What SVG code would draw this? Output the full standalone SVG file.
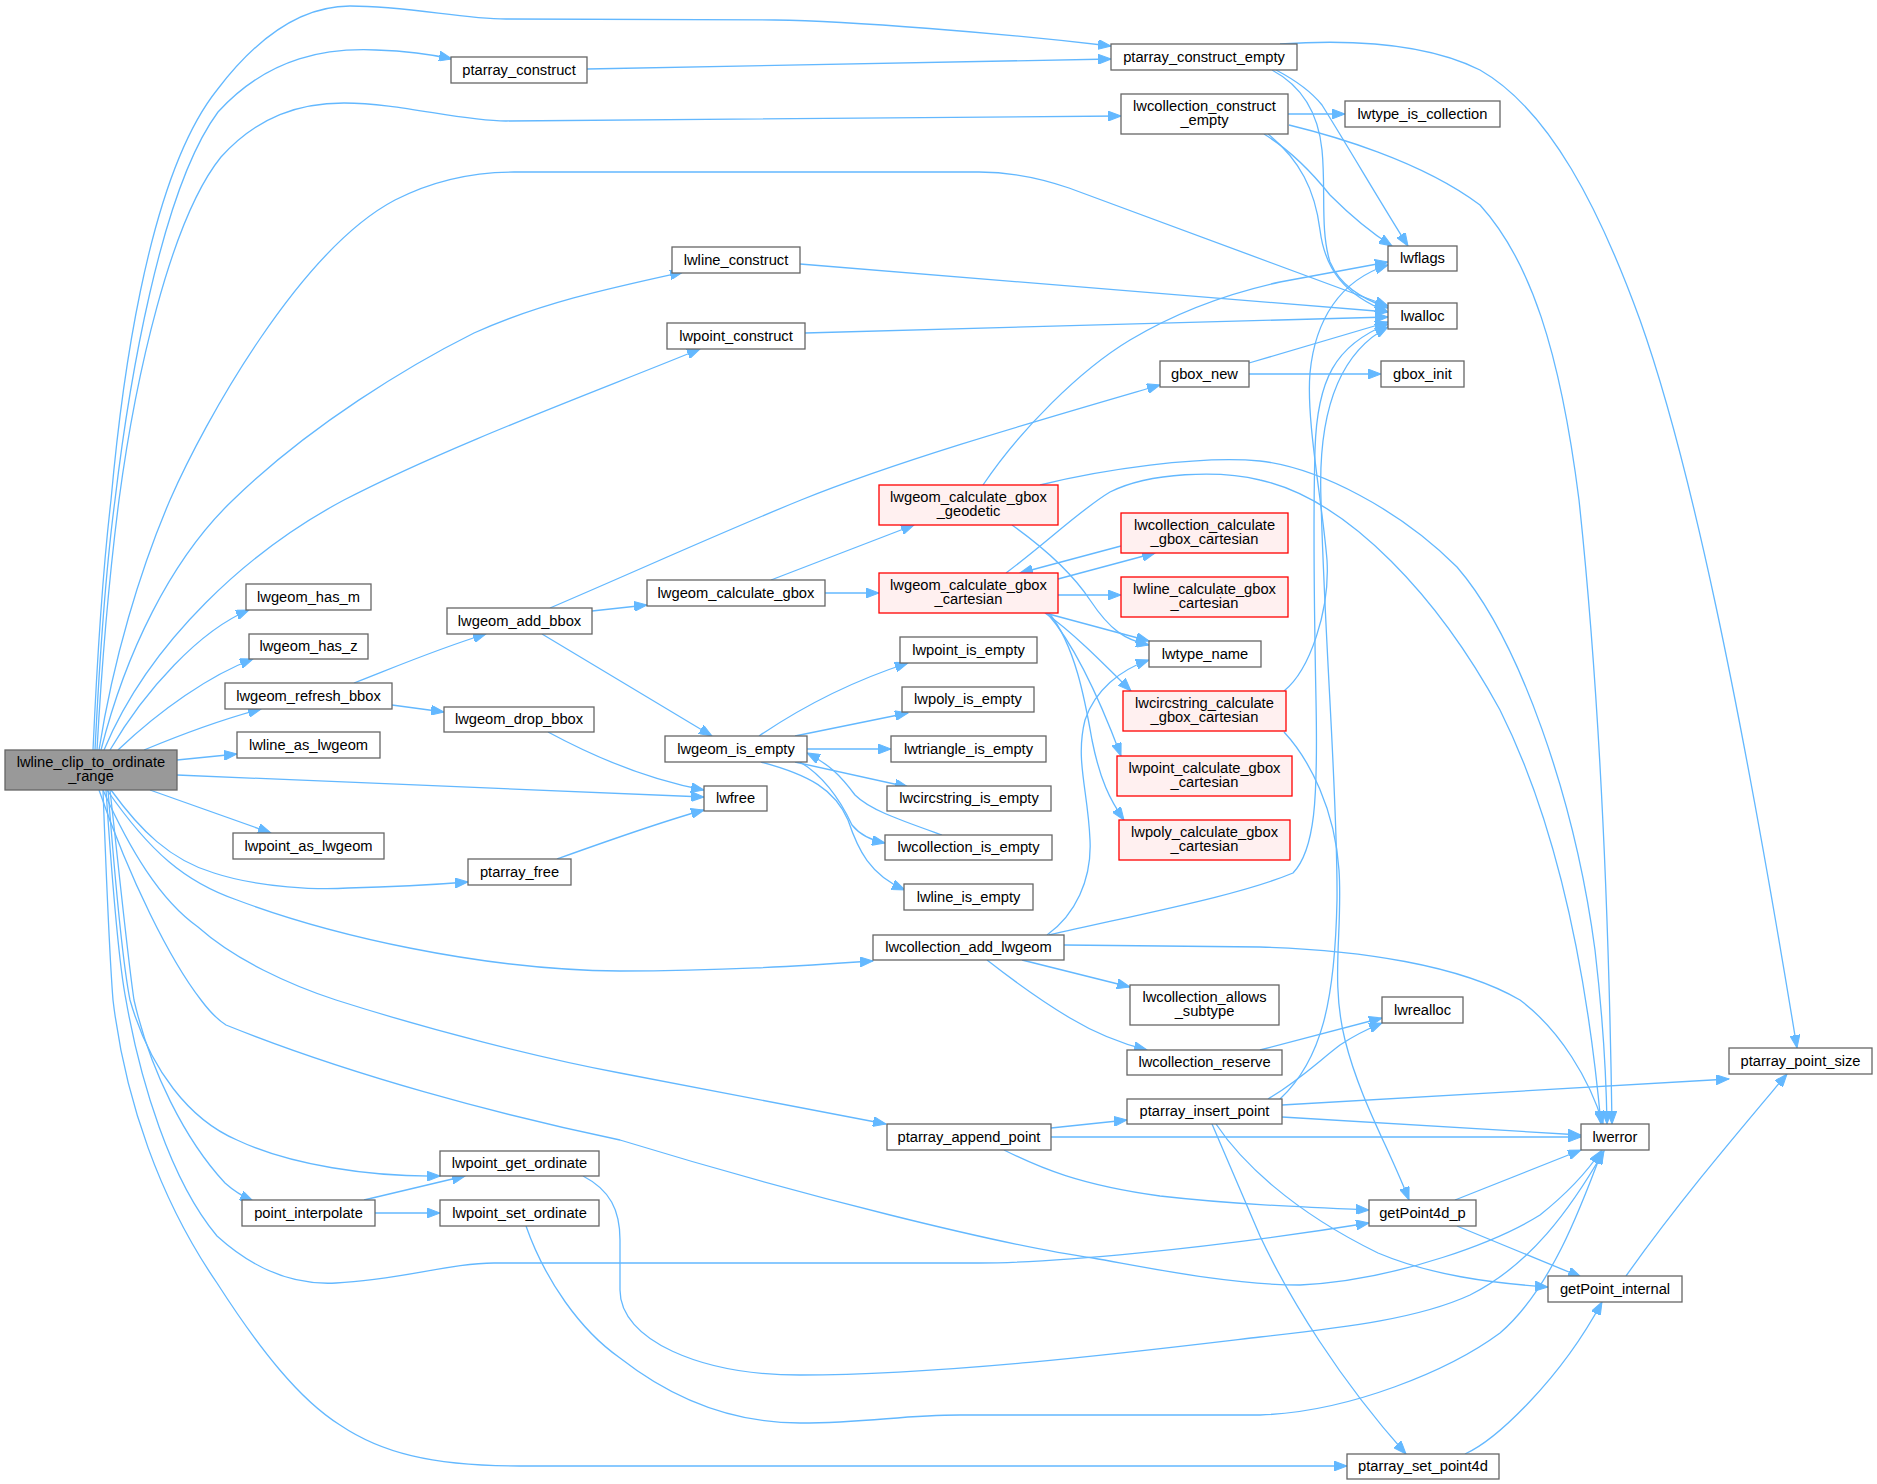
<svg xmlns="http://www.w3.org/2000/svg" width="1877" height="1484" viewBox="0 0 1877 1484">
<style>
rect{stroke:#666666;stroke-width:1.3;fill:#ffffff}
.r rect{stroke:#ff0000;fill:#fff0f0}
.g rect{fill:#999999}
text{font-family:"Liberation Sans",Arial,sans-serif;font-size:14.7px;fill:#000;text-anchor:middle}
#edges path{fill:none;stroke:#63b8ff;stroke-width:1.3;marker-end:url(#a)}
</style>
<defs>
<marker id="a" markerWidth="14" markerHeight="10" refX="13" refY="5" orient="auto" markerUnits="userSpaceOnUse"><path d="M0,0 L13,5 L0,10 z" fill="#63b8ff" stroke="#63b8ff" stroke-width="1"/></marker>
</defs>
<rect x="0" y="0" width="1877" height="1484" style="fill:#ffffff;stroke:none"/>
<g id="edges">
<path d="M93,750 C98,640 104,560 111,500 C120,400 145,180 217,90 C255,40 300,6 350,6 C410,6 460,19 506,19 L775,20 C850,21 1000,33 1111,46"/>
<path d="M95,750 C100,650 107,560 115,500 C128,390 160,190 218,112 C270,55 330,48 376,50 C405,51 430,54 452,59"/>
<path d="M97,750 C102,660 110,570 119,500 C135,380 170,220 221,157 C258,116 300,103 344,103 C400,103 460,121 506,121 L1121,116"/>
<path d="M99,750 C113,660 140,570 170,500 C205,420 300,250 395,200 C430,182 470,172 514,172 L979,172 C1010,172 1040,178 1069,188 L1388,306"/>
<path d="M101,750 C125,655 170,560 233,500 C310,425 410,365 474,333 C540,303 610,288 683,272"/>
<path d="M104,750 C150,640 250,550 344,500 C450,445 600,390 700,349"/>
<path d="M110,750 C145,690 200,630 249,610"/>
<path d="M118,750 C160,710 210,675 253,659"/>
<path d="M144,750 C180,735 220,720 261,709"/>
<path d="M177,760 L237,754"/>
<path d="M177,775 L704,797"/>
<path d="M150,790 L271,833"/>
<path d="M111,790 C140,830 170,860 214,873 C260,888 320,890 348,888 C390,887 430,885 468,882"/>
<path d="M107,790 C150,852 185,882 237,900 C330,935 480,970 620,971 C720,971 800,966 873,961"/>
<path d="M103,790 C130,850 160,900 198,927 C235,960 290,985 336,1000 C430,1030 540,1058 620,1073 L886,1124"/>
<path d="M99,790 C130,880 170,960 201,1000 C210,1012 218,1020 226,1025 C350,1075 500,1115 620,1140 C800,1195 1000,1245 1093,1258 C1150,1268 1230,1285 1300,1285 C1400,1280 1500,1240 1540,1215 C1565,1195 1585,1175 1601,1151"/>
<path d="M108,790 C115,880 122,960 130,1000 C150,1070 190,1120 237,1140 C290,1165 370,1177 440,1176"/>
<path d="M110,790 C120,880 128,960 134,1000 C150,1070 185,1140 225,1183 C235,1192 244,1197 253,1201"/>
<path d="M106,790 C112,880 118,960 126,1000 C140,1080 170,1180 217,1236 C260,1275 300,1285 336,1283 C400,1280 450,1263 494,1263 L979,1263 C1050,1263 1200,1250 1369,1223"/>
<path d="M103,790 C106,870 109,950 113,1000 C125,1100 160,1200 217,1283 C260,1350 300,1400 340,1425 C380,1452 430,1466 520,1466 L1347,1466"/>
<path d="M587,69 L1111,59"/>
<path d="M1280,44 C1340,40 1420,40 1480,70 C1550,110 1600,210 1640,320 C1690,460 1740,700 1797,1048"/>
<path d="M1276,70 C1295,80 1310,90 1322,105 C1350,150 1385,210 1408,246"/>
<path d="M1272,70 C1300,85 1318,110 1322,150 C1326,190 1320,230 1330,262 C1340,285 1360,298 1388,308"/>
<path d="M1288,114 L1345,114"/>
<path d="M1264,134 C1290,150 1310,170 1330,195 C1350,215 1370,232 1392,246"/>
<path d="M1268,134 C1300,160 1315,190 1320,230 C1325,270 1345,295 1388,312"/>
<path d="M1289,125 C1330,135 1420,160 1480,205 C1530,260 1560,350 1579,500 C1595,650 1608,850 1612,1124"/>
<path d="M800,264 L1388,312"/>
<path d="M805,333 L1388,317"/>
<path d="M1249,363 L1388,322"/>
<path d="M1249,374 L1381,374"/>
<path d="M550,608 C650,565 720,533 801,500 C900,460 1040,420 1160,385"/>
<path d="M592,611 L647,605"/>
<path d="M542,634 L712,736"/>
<path d="M354,683 C400,665 440,648 486,634"/>
<path d="M392,705 L444,712"/>
<path d="M548,732 C600,760 650,780 704,790"/>
<path d="M557,859 C610,840 660,822 704,810"/>
<path d="M771,580 L914,525"/>
<path d="M825,593 L879,593"/>
<path d="M1058,579 L1155,553"/>
<path d="M1121,546 L1020,573"/>
<path d="M1058,595 L1121,595"/>
<path d="M1045,613 L1149,641"/>
<path d="M1045,613 C1070,630 1100,660 1131,691"/>
<path d="M1047,613 C1075,645 1100,700 1121,756"/>
<path d="M1049,613 C1075,645 1085,700 1092,740 C1100,780 1110,800 1124,820"/>
<path d="M1012,525 C1040,545 1070,570 1090,600 C1110,630 1125,640 1149,645"/>
<path d="M983,485 C1020,430 1080,370 1130,340 C1180,310 1230,293 1280,282 L1388,262"/>
<path d="M1040,485 C1100,470 1200,455 1260,461 C1320,468 1400,510 1457,567 C1520,640 1575,800 1595,950 C1602,1010 1606,1060 1607,1124"/>
<path d="M1006,573 C1050,540 1080,510 1110,492 C1150,472 1220,470 1260,480 C1350,500 1440,600 1500,710 C1550,810 1585,950 1601,1124"/>
<path d="M1284,691 C1310,670 1330,610 1327,560 C1322,500 1306,420 1310,373 C1315,320 1340,280 1388,265"/>
<path d="M1284,732 C1310,760 1335,810 1339,870 C1343,930 1330,980 1345,1040 C1360,1100 1390,1150 1409,1200"/>
<path d="M759,736 C790,715 840,685 908,663"/>
<path d="M795,736 L908,713"/>
<path d="M807,749 L891,749"/>
<path d="M795,762 L908,787"/>
<path d="M800,762 C830,780 845,810 852,825 C860,835 870,840 885,843"/>
<path d="M761,762 C810,775 835,790 848,820 C858,850 870,875 905,890"/>
<path d="M942,835 C900,820 870,810 855,795 C840,775 830,765 807,753"/>
<path d="M1047,935 C1075,915 1092,880 1090,840 C1088,790 1075,760 1085,720 C1095,690 1120,670 1149,660"/>
<path d="M1064,945 L1260,947 C1360,950 1460,965 1520,1000 C1560,1030 1590,1080 1603,1124"/>
<path d="M1049,935 C1150,912 1240,895 1293,873 C1315,850 1318,800 1316,700 C1314,600 1313,520 1315,450 C1317,380 1335,345 1388,324"/>
<path d="M1022,960 L1130,987"/>
<path d="M987,960 C1010,978 1040,1000 1070,1018 C1090,1030 1115,1042 1147,1050"/>
<path d="M1260,1050 L1382,1018"/>
<path d="M1268,1099 C1300,1080 1320,1060 1340,1045 C1355,1035 1365,1030 1382,1023"/>
<path d="M1280,1099 C1322,1060 1335,1000 1337,900 C1338,800 1325,650 1321,500 C1318,420 1335,355 1388,327"/>
<path d="M1282,1105 L1729,1079"/>
<path d="M1282,1117 L1581,1135"/>
<path d="M1216,1124 C1240,1160 1290,1210 1378,1253 C1430,1275 1490,1283 1548,1287"/>
<path d="M1212,1124 L1260,1236 C1290,1300 1340,1380 1406,1454"/>
<path d="M1051,1128 L1127,1120"/>
<path d="M1051,1137 L1581,1137"/>
<path d="M1004,1150 C1040,1168 1080,1185 1160,1196 C1230,1204 1300,1207 1369,1210"/>
<path d="M1455,1200 L1581,1150"/>
<path d="M1457,1226 L1581,1277"/>
<path d="M1626,1276 C1680,1200 1740,1130 1787,1074"/>
<path d="M1465,1454 C1496,1440 1560,1380 1602,1302"/>
<path d="M364,1200 L465,1176"/>
<path d="M375,1213 L440,1213"/>
<path d="M583,1176 C610,1190 620,1210 620,1240 L620,1290 C620,1340 700,1375 800,1375 C950,1375 1150,1350 1260,1337 C1350,1327 1420,1318 1470,1295 C1530,1265 1570,1210 1604,1151"/>
<path d="M526,1226 C545,1280 580,1330 620,1358 C680,1405 740,1423 800,1423 C870,1423 900,1415 960,1415 L1260,1415 C1350,1412 1450,1370 1500,1333 C1550,1290 1580,1210 1602,1151"/>
</g>
<g id="n_lwline_clip_to_ordinate_range" class="g"><rect x="5" y="750" width="172" height="40"/><text x="91" y="766.5">lwline_clip_to_ordinate</text><text x="91" y="781">_range</text></g>
<g id="n_ptarray_construct"><rect x="451" y="57" width="136" height="26"/><text x="519" y="74.5">ptarray_construct</text></g>
<g id="n_ptarray_construct_empty"><rect x="1111" y="44" width="186" height="26"/><text x="1204" y="61.5">ptarray_construct_empty</text></g>
<g id="n_lwcollection_construct_empty"><rect x="1121" y="94" width="167" height="40"/><text x="1204.5" y="110.5">lwcollection_construct</text><text x="1204.5" y="125">_empty</text></g>
<g id="n_lwtype_is_collection"><rect x="1345" y="101" width="155" height="26"/><text x="1422.5" y="118.5">lwtype_is_collection</text></g>
<g id="n_lwflags"><rect x="1388" y="246" width="69" height="25"/><text x="1422.5" y="263">lwflags</text></g>
<g id="n_lwalloc"><rect x="1388" y="303" width="69" height="26"/><text x="1422.5" y="320.5">lwalloc</text></g>
<g id="n_gbox_init"><rect x="1381" y="361" width="83" height="26"/><text x="1422.5" y="378.5">gbox_init</text></g>
<g id="n_gbox_new"><rect x="1160" y="361" width="89" height="26"/><text x="1204.5" y="378.5">gbox_new</text></g>
<g id="n_lwline_construct"><rect x="672" y="247" width="128" height="26"/><text x="736" y="264.5">lwline_construct</text></g>
<g id="n_lwpoint_construct"><rect x="667" y="323" width="138" height="26"/><text x="736" y="340.5">lwpoint_construct</text></g>
<g id="n_lwgeom_calculate_gbox_geodetic" class="r"><rect x="879" y="485" width="179" height="40"/><text x="968.5" y="501.5">lwgeom_calculate_gbox</text><text x="968.5" y="516">_geodetic</text></g>
<g id="n_lwgeom_calculate_gbox_cartesian" class="r"><rect x="879" y="573" width="179" height="40"/><text x="968.5" y="589.5">lwgeom_calculate_gbox</text><text x="968.5" y="604">_cartesian</text></g>
<g id="n_lwcollection_calculate_gbox_cartesian" class="r"><rect x="1121" y="513" width="167" height="40"/><text x="1204.5" y="529.5">lwcollection_calculate</text><text x="1204.5" y="544">_gbox_cartesian</text></g>
<g id="n_lwline_calculate_gbox_cartesian" class="r"><rect x="1121" y="577" width="167" height="40"/><text x="1204.5" y="593.5">lwline_calculate_gbox</text><text x="1204.5" y="608">_cartesian</text></g>
<g id="n_lwtype_name"><rect x="1149" y="641" width="112" height="26"/><text x="1205" y="658.5">lwtype_name</text></g>
<g id="n_lwcircstring_calculate_gbox_cartesian" class="r"><rect x="1123" y="691" width="163" height="40"/><text x="1204.5" y="707.5">lwcircstring_calculate</text><text x="1204.5" y="722">_gbox_cartesian</text></g>
<g id="n_lwpoint_calculate_gbox_cartesian" class="r"><rect x="1117" y="756" width="175" height="40"/><text x="1204.5" y="772.5">lwpoint_calculate_gbox</text><text x="1204.5" y="787">_cartesian</text></g>
<g id="n_lwpoly_calculate_gbox_cartesian" class="r"><rect x="1119" y="820" width="171" height="40"/><text x="1204.5" y="836.5">lwpoly_calculate_gbox</text><text x="1204.5" y="851">_cartesian</text></g>
<g id="n_lwgeom_has_m"><rect x="246" y="584" width="125" height="26"/><text x="308.5" y="601.5">lwgeom_has_m</text></g>
<g id="n_lwgeom_has_z"><rect x="249" y="634" width="119" height="25"/><text x="308.5" y="651">lwgeom_has_z</text></g>
<g id="n_lwgeom_refresh_bbox"><rect x="225" y="683" width="167" height="26"/><text x="308.5" y="700.5">lwgeom_refresh_bbox</text></g>
<g id="n_lwline_as_lwgeom"><rect x="237" y="732" width="143" height="26"/><text x="308.5" y="749.5">lwline_as_lwgeom</text></g>
<g id="n_lwpoint_as_lwgeom"><rect x="233" y="833" width="151" height="26"/><text x="308.5" y="850.5">lwpoint_as_lwgeom</text></g>
<g id="n_lwgeom_add_bbox"><rect x="447" y="608" width="145" height="26"/><text x="519.5" y="625.5">lwgeom_add_bbox</text></g>
<g id="n_lwgeom_drop_bbox"><rect x="444" y="707" width="150" height="25"/><text x="519" y="724">lwgeom_drop_bbox</text></g>
<g id="n_ptarray_free"><rect x="468" y="859" width="103" height="26"/><text x="519.5" y="876.5">ptarray_free</text></g>
<g id="n_lwgeom_calculate_gbox"><rect x="647" y="580" width="178" height="26"/><text x="736" y="597.5">lwgeom_calculate_gbox</text></g>
<g id="n_lwgeom_is_empty"><rect x="665" y="736" width="142" height="26"/><text x="736" y="753.5">lwgeom_is_empty</text></g>
<g id="n_lwfree"><rect x="704" y="786" width="63" height="25"/><text x="735.5" y="803">lwfree</text></g>
<g id="n_lwpoint_is_empty"><rect x="900" y="637" width="137" height="26"/><text x="968.5" y="654.5">lwpoint_is_empty</text></g>
<g id="n_lwpoly_is_empty"><rect x="902" y="687" width="132" height="25"/><text x="968" y="704">lwpoly_is_empty</text></g>
<g id="n_lwtriangle_is_empty"><rect x="891" y="736" width="155" height="26"/><text x="968.5" y="753.5">lwtriangle_is_empty</text></g>
<g id="n_lwcircstring_is_empty"><rect x="887" y="786" width="164" height="25"/><text x="969" y="803">lwcircstring_is_empty</text></g>
<g id="n_lwcollection_is_empty"><rect x="885" y="835" width="167" height="25"/><text x="968.5" y="852">lwcollection_is_empty</text></g>
<g id="n_lwline_is_empty"><rect x="904" y="884" width="129" height="26"/><text x="968.5" y="901.5">lwline_is_empty</text></g>
<g id="n_lwcollection_add_lwgeom"><rect x="873" y="935" width="191" height="25"/><text x="968.5" y="952">lwcollection_add_lwgeom</text></g>
<g id="n_lwcollection_allows_subtype"><rect x="1130" y="985" width="149" height="40"/><text x="1204.5" y="1001.5">lwcollection_allows</text><text x="1204.5" y="1016">_subtype</text></g>
<g id="n_lwcollection_reserve"><rect x="1127" y="1050" width="155" height="25"/><text x="1204.5" y="1067">lwcollection_reserve</text></g>
<g id="n_lwrealloc"><rect x="1382" y="997" width="81" height="26"/><text x="1422.5" y="1014.5">lwrealloc</text></g>
<g id="n_ptarray_insert_point"><rect x="1127" y="1099" width="155" height="25"/><text x="1204.5" y="1116">ptarray_insert_point</text></g>
<g id="n_ptarray_append_point"><rect x="887" y="1124" width="164" height="26"/><text x="969" y="1141.5">ptarray_append_point</text></g>
<g id="n_ptarray_point_size"><rect x="1729" y="1048" width="143" height="26"/><text x="1800.5" y="1065.5">ptarray_point_size</text></g>
<g id="n_lwerror"><rect x="1581" y="1124" width="68" height="26"/><text x="1615" y="1141.5">lwerror</text></g>
<g id="n_getPoint4d_p"><rect x="1369" y="1200" width="107" height="26"/><text x="1422.5" y="1217.5">getPoint4d_p</text></g>
<g id="n_getPoint_internal"><rect x="1548" y="1276" width="134" height="26"/><text x="1615" y="1293.5">getPoint_internal</text></g>
<g id="n_ptarray_set_point4d"><rect x="1347" y="1454" width="152" height="25"/><text x="1423" y="1471">ptarray_set_point4d</text></g>
<g id="n_lwpoint_get_ordinate"><rect x="440" y="1151" width="159" height="25"/><text x="519.5" y="1168">lwpoint_get_ordinate</text></g>
<g id="n_point_interpolate"><rect x="242" y="1200" width="133" height="26"/><text x="308.5" y="1217.5">point_interpolate</text></g>
<g id="n_lwpoint_set_ordinate"><rect x="440" y="1200" width="159" height="26"/><text x="519.5" y="1217.5">lwpoint_set_ordinate</text></g>
</svg>
